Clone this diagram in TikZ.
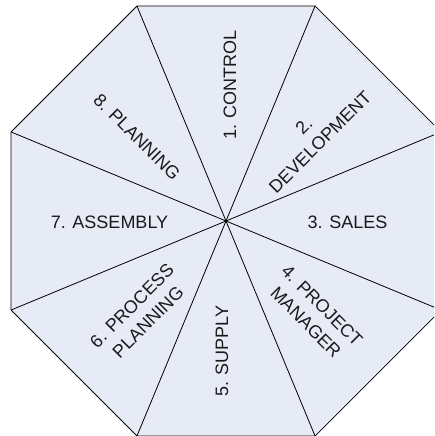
\documentclass[tikz,border=0pt]{standalone}
\usepackage{fontspec}
\setmainfont{Liberation Sans}
\definecolor{seg}{HTML}{E6EBF6}
\definecolor{ink}{HTML}{1A1A1A}
\begin{document}
\begin{tikzpicture}[x=1pt,y=-1pt,
  lbl/.style={font=\fontsize{18}{23}\selectfont, text=ink, align=center, inner sep=0pt},
  edge/.style={draw=black, line width=0.8pt, line join=miter}]
\useasboundingbox (0,0) rectangle (434,436);
\clip (0,0) rectangle (434,436);
\coordinate (c) at (226,221);
\coordinate (v1) at (136.94,6);
\coordinate (v2) at (315.06,6);
\coordinate (v3) at (441,131.94);
\coordinate (v4) at (441,310.06);
\coordinate (v5) at (315.06,436);
\coordinate (v6) at (136.94,436);
\coordinate (v7) at (11,310.06);
\coordinate (v8) at (11,131.94);
\path[edge, fill=seg] (v1) -- (v2) -- (v3) -- (v4) -- (v5) -- (v6) -- (v7) -- (v8) -- cycle;
\foreach \v in {v1,v2,v3,v4,v5,v6,v7,v8} \draw[edge] (c) -- (\v);
\node[lbl, rotate=90] (l1) at (230,85) {1. CONTROL};
\node[lbl, rotate=45] (l2) at (312,134) {2.\\DEVELOPMENT};
\node[lbl] (l3) at (347.5,222) {3. SALES};
\node[lbl, rotate=-45] (l4) at (314,314) {4. PROJECT\\MANAGER};
\node[lbl, rotate=90] (l5) at (222,351) {5. SUPPLY};
\node[lbl, rotate=45] (l6) at (140,314) {6. PROCESS\\PLANNING};
\node[lbl] (l7) at (109.5,222.5) {7. ASSEMBLY};
\node[lbl, rotate=-45] (l8) at (137,137) {8. PLANNING};
\end{tikzpicture}
\end{document}
